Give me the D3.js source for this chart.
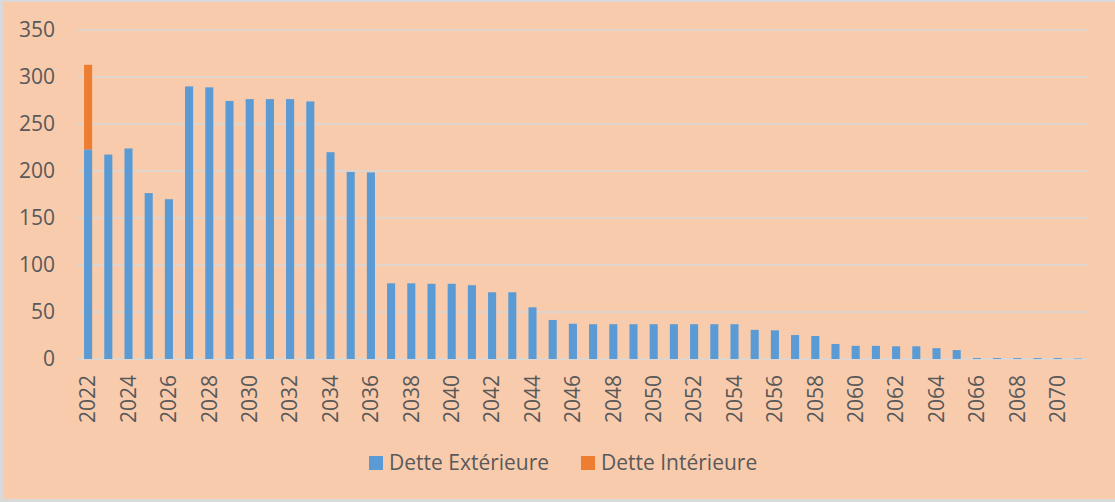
<!DOCTYPE html>
<html>
<head>
<meta charset="utf-8">
<script src="https://cdn.jsdelivr.net/npm/d3@7"></script>
<style>
  body { margin: 0; background: #fff; }
  text { font-family: "Open Sans", sans-serif; fill: #595959; }
</style>
</head>
<body>
<div id="chart"></div>
<script>
// Years on the x axis (one bar per year, label every second year)
const years = d3.range(2022, 2072);

// Dette Extérieure
const exterieure = [
  223, 217.5, 224, 176.5, 170, 290, 289, 274.5, 276.5, 276.5,
  276.5, 274, 220, 199, 198.5, 80.5, 80.5, 80, 80, 78.5,
  71, 71, 55, 41.5, 37.5, 37, 37, 37, 37, 37,
  37, 37, 37, 31, 30.5, 25.5, 24.5, 16, 14, 14,
  13.5, 13.5, 11.5, 9.5, 1, 1, 1, 1, 1, 0.5
];

// Dette Intérieure, only in 2022
const interieure = [90].concat(d3.range(49).map(() => 0));

const yTicks = [0, 50, 100, 150, 200, 250, 300, 350];
const seriesNames = ["Dette Extérieure", "Dette Intérieure"];
const colors = ["#5B9BD5", "#ED7D31"];

const width = 1115;
const height = 502;
const fontSize = 21;

const svg = d3.select("#chart").append("svg")
    .attr("width", width)
    .attr("height", height);

// Chart area background and border
svg.append("rect")
    .attr("width", width)
    .attr("height", height)
    .attr("fill", "#D9D9D9");
svg.append("rect")
    .attr("x", 3)
    .attr("y", 2)
    .attr("width", width - 3)
    .attr("height", 497)
    .attr("fill", "#F8CBAD");

const x = d3.scaleBand()
    .domain(years)
    .range([78, 1088])
    .paddingInner(0.6)
    .paddingOuter(0.3);

const y = d3.scaleLinear()
    .domain([0, 350])
    .range([359, 30]);

// Gridlines
svg.append("g")
    .selectAll("line")
    .data(yTicks)
    .enter().append("line")
    .attr("x1", 78)
    .attr("x2", 1088)
    .attr("y1", d => y(d))
    .attr("y2", d => y(d))
    .attr("stroke", "#D9D9D9")
    .attr("stroke-width", 1.5);

// Y axis labels
const yAxis = svg.append("g")
    .attr("transform", "translate(55,0)")
    .call(d3.axisLeft(y).tickValues(yTicks).tickSize(0).tickPadding(0));
yAxis.select(".domain").remove();
yAxis.selectAll("text")
    .attr("font-size", fontSize)
    .attr("font-family", "Open Sans, sans-serif")
    .attr("fill", "#595959");

// Stacked bars
const rows = years.map((yr, i) => ({ year: yr, ext: exterieure[i], int: interieure[i] }));
const stack = d3.stack().keys(["ext", "int"])(rows);

svg.append("g")
    .selectAll("g")
    .data(stack)
    .enter().append("g")
    .attr("fill", (d, i) => colors[i])
    .selectAll("rect")
    .data(d => d.filter(s => s[1] > s[0]))
    .enter().append("rect")
    .attr("x", d => x(d.data.year))
    .attr("width", x.bandwidth())
    .attr("y", d => y(d[1]))
    .attr("height", d => y(d[0]) - y(d[1]));

// X axis labels, rotated
const xAxis = svg.append("g")
    .attr("transform", "translate(0,359)")
    .call(d3.axisBottom(x)
        .tickValues(years.filter(yr => (yr - 2022) % 2 === 0))
        .tickSize(0));
xAxis.select(".domain").remove();
xAxis.selectAll("text")
    .attr("font-size", fontSize)
    .attr("font-family", "Open Sans, sans-serif")
    .attr("fill", "#595959")
    .attr("text-anchor", "end")
    .attr("transform", "rotate(-90)")
    .attr("x", -16)
    .attr("y", 0)
    .attr("dy", "0.35em");

// Legend
const legendX = [369, 581];
const legend = svg.append("g")
    .selectAll("g")
    .data(seriesNames)
    .enter().append("g")
    .attr("transform", (d, i) => `translate(${legendX[i]},456)`);

legend.append("rect")
    .attr("width", 14)
    .attr("height", 14)
    .attr("fill", (d, i) => colors[i]);

legend.append("text")
    .attr("x", 20)
    .attr("y", 14)
    .attr("font-size", fontSize)
    .text(d => d);
</script>
</body>
</html>
